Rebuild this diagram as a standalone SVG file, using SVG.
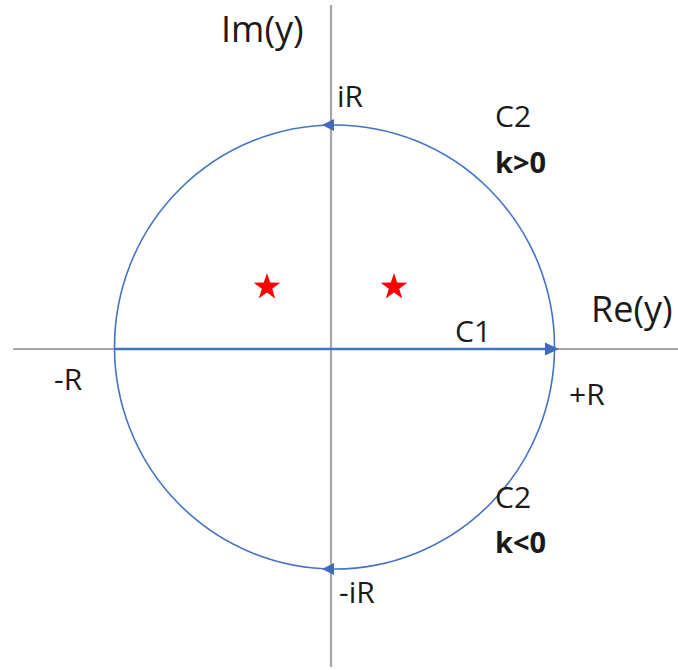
<svg xmlns="http://www.w3.org/2000/svg" width="678" height="670" viewBox="0 0 678 670">
<style>
.axis{stroke:#A6A6A6;stroke-width:2.2;fill:none}
.path{stroke:#4472C4;fill:none}
.arr{fill:#3F6BBF}
.lbl{font-family:"Open Sans","Liberation Sans",sans-serif;fill:#1a1a1a;font-size:30px}
.ax{font-size:36px}
.b{font-weight:bold;font-size:29px}
.star{fill:#FF0000}
</style>
<rect width="678" height="670" fill="#ffffff"/>
<g id="axes">
<line class="axis" x1="13" y1="349" x2="678" y2="349"/>
<line class="axis" x1="331" y1="5" x2="331" y2="667"/>
</g>
<g id="connectors">
<ellipse class="path" cx="334.5" cy="347" rx="220" ry="222" stroke-width="1.6"/>
<line class="path" x1="115" y1="349" x2="546" y2="349" stroke-width="2.6"/>
<polygon class="arr" points="559,349 545,342.5 545,355.5"/>
<polygon class="arr" points="322,125 334,119 334,131"/>
<polygon class="arr" points="322,569 334,563 334,575"/>
</g>
<g id="star-left">
<polygon class="star" points="267,273 270.2,282.6 280.3,282.7 272.2,288.7 275.2,298.4 267,292.5 258.8,298.4 261.8,288.7 253.7,282.7 263.8,282.6"/>
</g>
<g id="star-right">
<polygon class="star" points="394,273 397.2,282.6 407.3,282.7 399.2,288.7 402.2,298.4 394,292.5 385.8,298.4 388.8,288.7 380.7,282.7 390.8,282.6"/>
</g>
<g id="labels">
<text class="lbl ax" x="221" y="42">Im(y)</text>
<text class="lbl ax" x="591" y="322">Re(y)</text>
<text class="lbl" x="337" y="107">iR</text>
<text class="lbl" x="339" y="603">-iR</text>
<text class="lbl" x="54" y="390">-R</text>
<text class="lbl" x="569" y="405">+R</text>
<text class="lbl" x="455" y="342">C1</text>
<text class="lbl" x="495" y="127">C2</text>
<text class="lbl b" x="495" y="173">k&gt;0</text>
<text class="lbl" x="495" y="508">C2</text>
<text class="lbl b" x="495" y="553">k&lt;0</text>
</g>
</svg>
